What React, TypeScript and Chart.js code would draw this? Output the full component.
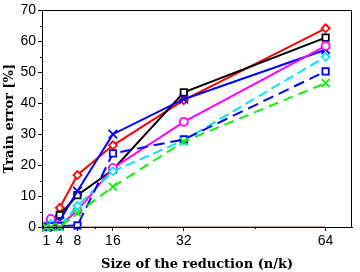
import React, { useEffect, useRef } from "react";
import { Chart, registerables } from "chart.js";

Chart.register(...registerables);

const xValues = [1, 2, 4, 8, 16, 32, 64];
const xTickLabels = [1, 4, 8, 16, 32, 64];
const xMinorTicks = [12, 24, 48];

const redSeries = [null, 0, 6.2, 16.8, 26.4, 41.0, 64.2];
const blackSeries = [0, 0.3, 3.9, 10.3, 18.5, 43.5, 61.2];
const blueSeries = [0, 0.4, 2.0, 11.6, 30.0, 41.3, 57.3];
const magentaSeries = [0.3, 2.6, 0.5, 5.3, 19.0, 34.0, 58.5];
const cyanSeries = [0, 1.0, 0.3, 6.8, 18.0, 28.0, 55.0];
const blueDashSeries = [0, 0.2, 0.3, 0.5, 23.8, 28.3, 50.3];
const greenSeries = [0, 0, 0, 4.5, 13.0, 27.6, 46.5];
const zeroSeries = [0, 0, 0, 0, 0, 0, 0];

function pts(vals: (number | null)[]) {
  return xValues.map((x, i) => ({ x, y: vals[i] }));
}

const boxPlugin = {
  id: "boxAndMinor",
  afterDraw(chart: any) {
    const { ctx, chartArea, scales } = chart;
    ctx.save();
    ctx.strokeStyle = "#000";
    ctx.lineWidth = 1;
    ctx.strokeRect(
      Math.round(chartArea.left) + 0.5,
      Math.round(chartArea.top) + 0.5,
      Math.round(chartArea.right - chartArea.left) - 1,
      Math.round(chartArea.bottom - chartArea.top)
    );
    const ys = scales.y;
    for (let v = 5; v < 70; v += 10) {
      const py = Math.round(ys.getPixelForValue(v)) + 0.5;
      ctx.beginPath();
      ctx.moveTo(chartArea.left - 2, py);
      ctx.lineTo(chartArea.left, py);
      ctx.stroke();
    }
    const xs = scales.x;
    for (const v of xMinorTicks) {
      const px = Math.round(xs.getPixelForValue(v)) + 0.5;
      ctx.beginPath();
      ctx.moveTo(px, chartArea.bottom);
      ctx.lineTo(px, chartArea.bottom + 2);
      ctx.stroke();
    }
    ctx.restore();
  },
};

export default function App() {
  const ref = useRef<HTMLCanvasElement>(null);
  useEffect(() => {
    if (!ref.current) return;
    Chart.defaults.font.family = "'Liberation Sans', Arial, sans-serif";
    Chart.defaults.color = "#000";
    const common = {
      borderWidth: 2,
      pointBackgroundColor: "#fff",
      pointBorderWidth: 1.8,
      tension: 0,
      clip: false as any,
    };
    const chart = new Chart(ref.current, {
      type: "line",
      data: {
        datasets: [
          { label: "zero", data: pts(zeroSeries), borderColor: "#c04040", borderWidth: 1, pointRadius: 0, clip: false as any },
          { ...common, label: "green", data: pts(greenSeries), borderColor: "#11ee11", pointBorderColor: "#11ee11", pointStyle: "crossRot", pointRadius: 5.5, borderDash: [10, 6] },
          { ...common, label: "blueDash", data: pts(blueDashSeries), borderColor: "#0000ff", pointBorderColor: "#0000ff", pointStyle: "rect", pointRadius: 4.5, borderDash: [11, 6] },
          { ...common, label: "cyan", data: pts(cyanSeries), borderColor: "#00e5ff", pointBorderColor: "#00e5ff", pointStyle: "rectRot", pointRadius: 4, borderDash: [10, 5] },
          { ...common, label: "magenta", data: pts(magentaSeries), borderColor: "#ff00ff", pointBorderColor: "#ff00ff", pointStyle: "circle", pointRadius: 4 },
          { ...common, label: "blue", data: pts(blueSeries), borderColor: "#0000ff", pointBorderColor: "#0000ff", pointStyle: "crossRot", pointRadius: 6 },
          { ...common, label: "black", data: pts(blackSeries), borderColor: "#000", pointBorderColor: "#000", pointStyle: "rect", pointRadius: 4.5 },
          { ...common, label: "red", data: pts(redSeries), borderColor: "#ff0000", pointBorderColor: "#ff0000", pointStyle: "rectRot", pointRadius: 4 },
        ],
      },
      options: {
        animation: false,
        responsive: false,
        layout: { padding: { top: 9, right: 4, left: 0, bottom: 0 } },
        plugins: { legend: { display: false }, tooltip: { enabled: false } },
        scales: {
          x: {
            type: "linear",
            min: 0,
            max: 70,
            afterBuildTicks: (s: any) => {
              s.ticks = xTickLabels.map((v) => ({ value: v }));
            },
            afterFit: (s: any) => {
              s.height = 45;
            },
            ticks: { font: { size: 14 }, padding: 2, maxRotation: 0, autoSkip: false },
            grid: { display: true, drawOnChartArea: false, drawTicks: true, tickLength: 4, color: "#000" },
            border: { display: true, color: "#000" },
            title: {
              display: true,
              text: "Size of the reduction (n/k)",
              font: { family: "'DejaVu Serif', serif", weight: "bold", size: 13 },
              padding: { top: 0, bottom: 0 },
            },
          },
          y: {
            min: 0,
            max: 70,
            ticks: { stepSize: 10, font: { size: 14 }, padding: 2 },
            afterFit: (s: any) => {
              s.width = 42;
            },
            grid: { display: true, drawOnChartArea: false, drawTicks: true, tickLength: 4, color: "#000" },
            border: { display: true, color: "#000" },
            title: {
              display: true,
              text: "Train error [%]",
              font: { family: "'DejaVu Serif', serif", weight: "bold", size: 13 },
              padding: { top: 2, bottom: 0 },
            },
          },
        },
      },
      plugins: [boxPlugin],
    });
    return () => chart.destroy();
  }, []);
  return (
    <div style={{ position: "absolute", left: 0, top: 0, width: 360, height: 272 }}>
      <canvas ref={ref} width={360} height={272} style={{ width: 360, height: 272 }} />
    </div>
  );
}
